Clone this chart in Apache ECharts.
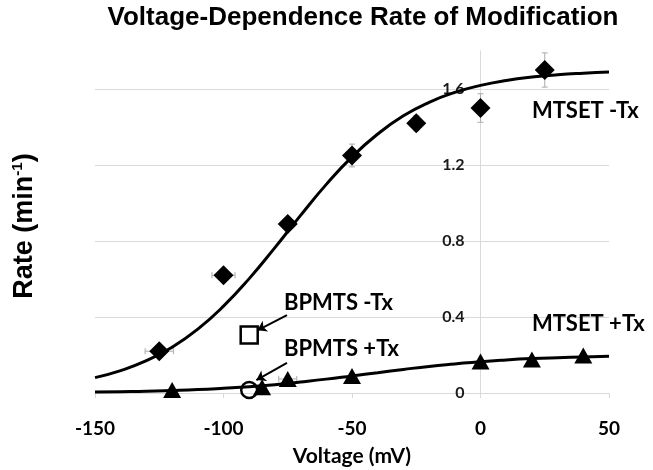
<!DOCTYPE html>
<html>
<head>
<meta charset="utf-8">
<script src="https://cdn.jsdelivr.net/npm/echarts@6/dist/echarts.min.js"></script>
<style>html,body{margin:0;padding:0;background:#fff}#c{width:653px;height:470px}</style>
</head>
<body>
<div id="c"></div>
<script>
// MTSET -Tx (diamonds)
const mtsetNoTxX = [-125, -100, -75, -50, -25, 0, 25];
const mtsetNoTxY = [0.22, 0.62, 0.89, 1.25, 1.42, 1.50, 1.70];
const mtsetNoTxErrY = [0.02, 0.02, 0.03, 0.06, 0.04, 0.075, 0.09];
const mtsetNoTxErrX = [5.5, 4.5, 0, 0, 0, 0, 0];
// MTSET +Tx (triangles)
const mtsetTxX = [-120, -85, -75, -50, 0, 20, 40];
const mtsetTxY = [0.016, 0.03, 0.074, 0.09, 0.166, 0.176, 0.197];
const mtsetTxErrX = [0, 0, 3.5, 0, 0, 0, 0];
// BPMTS
const bpmtsNoTx = [[-90, 0.305]];
const bpmtsTx = [[-90, 0.016]];
// Fitted curves
const curveX = [-150,-140,-130,-120,-110,-100,-90,-80,-70,-60,-50,-40,-30,-20,-10,0,10,20,30,40,50];
const curveNoTxY = [0.081,0.118,0.170,0.241,0.336,0.457,0.602,0.765,0.935,1.098,1.243,1.363,1.459,1.530,1.582,1.619,1.645,1.663,1.675,1.683,1.689];
const curveTxY = [0.005,0.007,0.009,0.013,0.018,0.025,0.033,0.044,0.058,0.073,0.090,0.107,0.124,0.140,0.153,0.165,0.174,0.181,0.186,0.190,0.193];
// Annotations
const labelTexts = ['MTSET -Tx', 'MTSET +Tx', 'BPMTS -Tx', 'BPMTS +Tx'];
const labelPos = [[20, 1.484], [20, 0.366], [-76.5, 0.474], [-76.5, 0.232]];
const arrows = [[[-75.3, 0.41], [-86.8, 0.33]], [[-75.3, 0.158], [-87.2, 0.068]]];
const xTicks = {min: -150, max: 50, interval: 50};
const yTicks = {min: 0, max: 1.8, interval: 0.4};
const yAxisCross = 0;

const zip = (a, b) => a.map((v, i) => [v, b[i]]);
const errData = [];
mtsetNoTxX.forEach((x, i) => errData.push([x, mtsetNoTxY[i], mtsetNoTxErrX[i], mtsetNoTxErrY[i]]));
mtsetTxX.forEach((x, i) => errData.push([x, mtsetTxY[i], mtsetTxErrX[i], 0]));

const chart = echarts.init(document.getElementById('c'));
const gridCol = '#d9d9d9';
const gridLeft = 95;
const fontA = 'Lato, "Open Sans", sans-serif';
const fontB = '"Liberation Sans", Arial, sans-serif';
chart.setOption({
  animation: false,
  graphic: [{
    type: 'text', x: 363, y: 18,
    style: {text: 'Voltage-Dependence Rate of Modification', font: 'bold 26px ' + fontB, fill: '#000', align: 'center', verticalAlign: 'middle'}
  }],
  grid: {left: gridLeft, right: 44, top: 51, bottom: 77, containLabel: false, outerBoundsMode: 'none'},
  xAxis: {
    type: 'value', min: xTicks.min, max: xTicks.max, interval: xTicks.interval,
    name: 'Voltage (mV)', nameLocation: 'middle', nameGap: 53,
    nameTextStyle: {fontFamily: fontA, fontWeight: 'bold', fontSize: 21, color: '#000'},
    axisLine: {show: true, onZero: false, lineStyle: {color: gridCol, width: 1}},
    axisTick: {show: true, inside: false, length: 5, lineStyle: {color: gridCol}},
    axisLabel: {fontFamily: fontA, fontWeight: 'bold', fontSize: 19, color: '#000', margin: 26},
    splitLine: {show: false}
  },
  yAxis: [{
    type: 'value', min: yTicks.min, max: yTicks.max, interval: yTicks.interval,
    position: 'left', offset: 0,
    axisLine: {show: true, onZero: false, lineStyle: {color: gridCol, width: 1}},
    axisTick: {show: false},
    axisLabel: {fontFamily: fontA, fontWeight: 'bold', fontSize: 16, color: '#1a1a1a', margin: 16, showMaxLabel: false},
    splitLine: {show: true, lineStyle: {color: [gridCol, gridCol, gridCol, gridCol, gridCol, 'rgba(0,0,0,0)'], width: 1}}
  }, {
    type: 'value', min: yTicks.min, max: yTicks.max, position: 'left', offset: 0,
    name: '{a|Rate (min}{s|-1}{a|)}', nameLocation: 'middle', nameGap: 56,
    nameTextStyle: {padding: [0, 8, 0, 0], rich: {
      a: {fontFamily: fontB, fontWeight: 'bold', fontSize: 27, color: '#000'},
      s: {fontFamily: fontB, fontWeight: 'bold', fontSize: 15, color: '#000', padding: [0, 0, 14, 0]}
    }},
    axisLine: {show: false}, axisTick: {show: false}, axisLabel: {show: false}, splitLine: {show: false}
  }],
  series: [
    {
      type: 'custom', name: 'err', silent: true, z: 1,
      renderItem: function (params, api) {
        const x = api.value(0), y = api.value(1), ex = api.value(2), ey = api.value(3);
        const children = [];
        const st = {stroke: '#aaa', lineWidth: 1};
        if (ey > 0) {
          const p1 = api.coord([x, y - ey]), p2 = api.coord([x, y + ey]);
          children.push({type: 'line', shape: {x1: p1[0], y1: p1[1], x2: p2[0], y2: p2[1]}, style: st});
          children.push({type: 'line', shape: {x1: p1[0] - 3, y1: p1[1], x2: p1[0] + 3, y2: p1[1]}, style: st});
          children.push({type: 'line', shape: {x1: p2[0] - 3, y1: p2[1], x2: p2[0] + 3, y2: p2[1]}, style: st});
        }
        if (ex > 0) {
          const p1 = api.coord([x - ex, y]), p2 = api.coord([x + ex, y]);
          children.push({type: 'line', shape: {x1: p1[0], y1: p1[1], x2: p2[0], y2: p2[1]}, style: st});
          children.push({type: 'line', shape: {x1: p1[0], y1: p1[1] - 3, x2: p1[0], y2: p1[1] + 3}, style: st});
          children.push({type: 'line', shape: {x1: p2[0], y1: p2[1] - 3, x2: p2[0], y2: p2[1] + 3}, style: st});
        }
        return {type: 'group', children: children};
      },
      data: errData
    },
    {type: 'line', data: zip(curveX, curveNoTxY), smooth: true, symbol: 'none', lineStyle: {color: '#000', width: 3}, z: 2, silent: true},
    {type: 'line', data: zip(curveX, curveTxY), smooth: true, symbol: 'none', lineStyle: {color: '#000', width: 3}, z: 2, silent: true,
      markLine: {
        silent: true, symbol: ['none', 'arrow'], symbolSize: 9,
        lineStyle: {color: '#000', width: 2, type: 'solid'}, label: {show: false},
        data: arrows.map(a => [{coord: a[0]}, {coord: a[1]}])
      }
    },
    {type: 'scatter', data: zip(mtsetNoTxX, mtsetNoTxY), symbol: 'diamond', symbolSize: 20, itemStyle: {color: '#000', opacity: 1}, z: 3},
    {type: 'scatter', data: zip(mtsetTxX, mtsetTxY), symbol: 'triangle', symbolSize: [18, 16], itemStyle: {color: '#000', opacity: 1}, z: 3},
    {type: 'scatter', data: bpmtsNoTx, symbol: 'rect', symbolSize: 17, itemStyle: {color: '#fff', borderColor: '#000', borderWidth: 2.5, opacity: 1}, z: 3},
    {type: 'scatter', data: bpmtsTx, symbol: 'circle', symbolSize: 16, itemStyle: {color: 'rgba(255,255,255,0)', borderColor: '#000', borderWidth: 2.5, opacity: 1}, z: 3},
    {type: 'scatter', silent: true, symbolSize: 0, z: 4, itemStyle: {opacity: 1},
      data: labelPos.map((p, i) => ({value: p, name: labelTexts[i]})),
      label: {show: true, position: 'right', distance: 0, formatter: '{b}', fontFamily: fontA, fontWeight: 'bold', fontSize: 22, color: '#000', align: 'left', verticalAlign: 'middle'}
    }
  ]
});
// move the value axis so it crosses the x axis at 0 (like the original)
const crossPx = chart.convertToPixel({xAxisIndex: 0}, yAxisCross);
chart.setOption({yAxis: [{offset: gridLeft - crossPx}, {}]});
</script>
</body>
</html>
